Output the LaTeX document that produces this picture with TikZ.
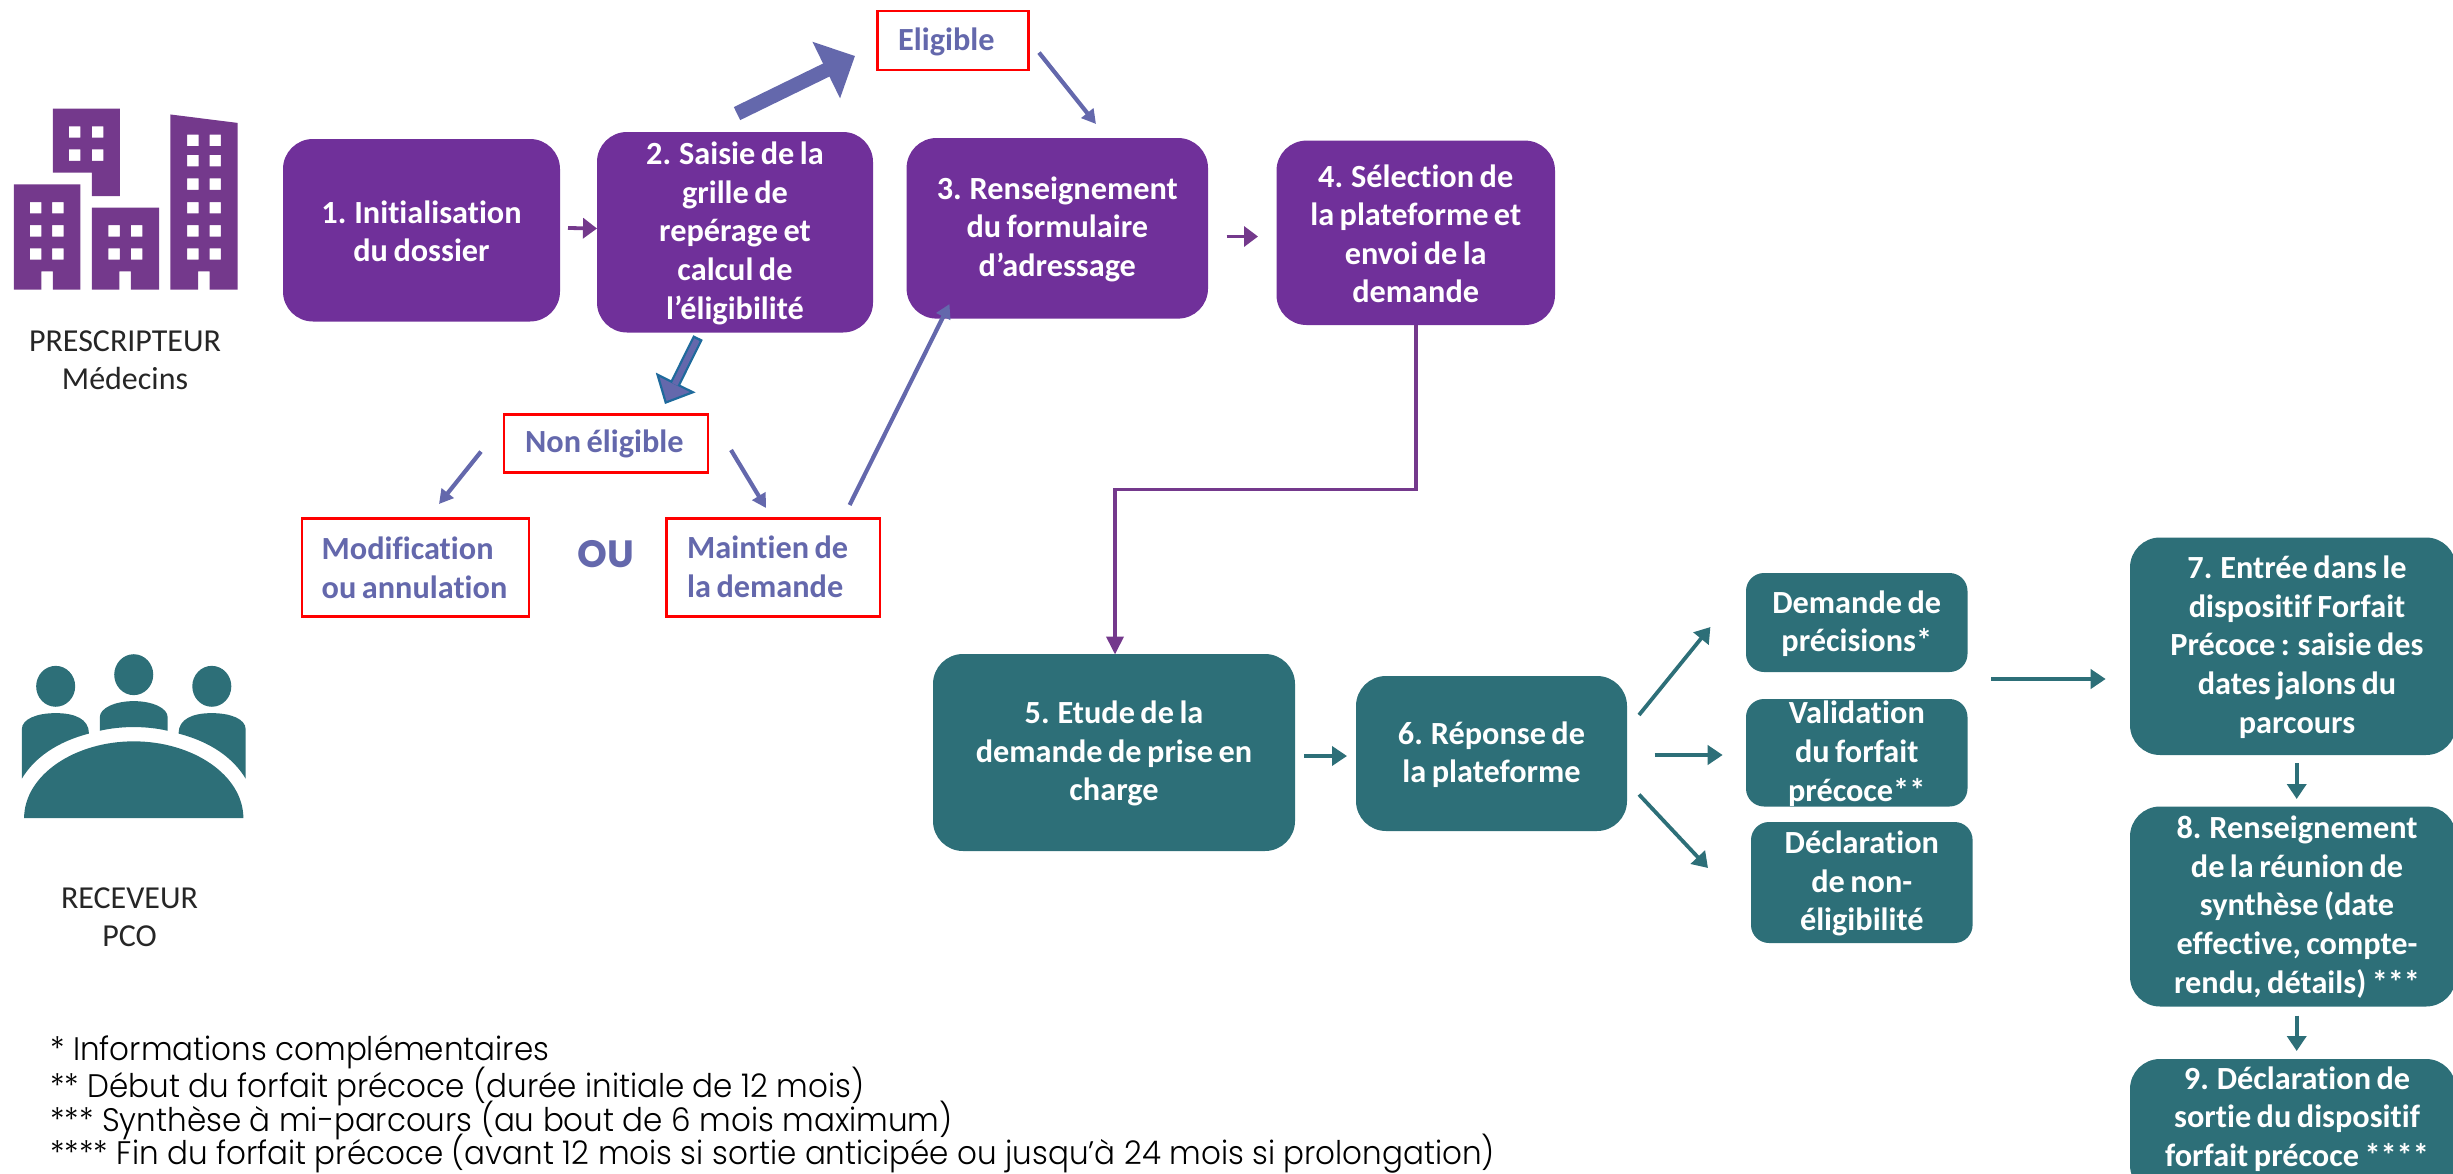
\documentclass[tikz,border=0pt]{standalone}
\usepackage{fontspec}
\usetikzlibrary{arrows.meta}
\setmainfont[Ligatures=NoCommon,WordSpace=0.75]{Carlito}
\newfontfamily\gothic[FakeStretch=0.95]{Poppins Light}
\newfontfamily\gothicb{Poppins}
\definecolor{pur}{HTML}{70309A}
\definecolor{purl}{HTML}{74398C}
\definecolor{teal2}{HTML}{2D6F78}
\definecolor{slate}{HTML}{6468AC}
\definecolor{slateb}{HTML}{1F6A9C}
\tikzset{
  box/.style={draw=none,inner sep=0pt,rounded corners=#1},
  pbox/.style={box=30pt,fill=pur},
  tbox/.style={box=30pt,fill=teal2},
  sbox/.style={box=18pt,fill=teal2},
  rbox/.style={draw=red,line width=2.6pt,inner sep=0pt},
  wtxt/.style={text=white,font=\fontsize{32.3}{38.6}\selectfont\bfseries,align=center,inner sep=0pt,yshift=-1pt},
  stxt/.style={text=slate,font=\fontsize{32.3}{38.6}\selectfont\bfseries,align=left,inner sep=0pt,yshift=-1pt},
  ktxt/.style={text=black!85,font=\fontsize{32}{38.5}\selectfont,align=center,inner sep=0pt},
  ftxt/.style={text=black,font=\gothic\fontsize{32.6}{34.5}\selectfont,anchor=west,inner sep=0pt},
  thin/.style={draw=slate,line width=4.2pt,-{Triangle[length=14pt,width=15pt]}},
  parr/.style={draw=purl,line width=3.8pt,-{Triangle[length=14pt,width=20pt]}},
  tarr/.style={draw=teal2,line width=3.8pt,-{Triangle[length=15pt,width=19pt]}},
}
\newcommand{\BX}[6]{% name x1 y1 x2 y2 style
  \pgfmathsetmacro{\cxx}{(#2+#4)/2}\pgfmathsetmacro{\cyy}{(#3+#5)/2}
  \pgfmathsetmacro{\www}{#4-#2}\pgfmathsetmacro{\hhh}{#5-#3}
  \node[#6,minimum width=\www pt,minimum height=\hhh pt] (#1) at (\cxx,\cyy) {};}
\begin{document}
\begin{tikzpicture}[x=1pt,y=-1pt]
\useasboundingbox (0,0) rectangle (2453,1173);
\clip (0,0) rectangle (2453,1173);
% buildings
\begin{scope}[x=0.574pt,y=-0.4209pt,fill=purl]
\fill[even odd rule] (92,258)--(209,258)--(209,466)--(160,466)--(160,410)--(92,410)--cycle
  (120,300) rectangle (140,327) (160,300) rectangle (180,327)
  (120,355) rectangle (140,382) (160,355) rectangle (180,382);
\fill[even odd rule] (24,438)--(140,438)--(140,688)--(92,688)--(92,645)--(72,645)--(72,688)--(24,688)--cycle
  (52,480) rectangle (72,507) (91,480) rectangle (111,507)
  (52,535) rectangle (72,562) (91,535) rectangle (111,562)
  (52,590) rectangle (72,617) (91,590) rectangle (111,617);
\fill[even odd rule] (160,493)--(277,493)--(277,688)--(228,688)--(228,645)--(208,645)--(208,688)--(160,688)--cycle
  (189,535) rectangle (209,562) (228,535) rectangle (248,562)
  (189,590) rectangle (209,617) (228,590) rectangle (248,617);
\fill[even odd rule] (297,272)--(414,292)--(414,688)--(365,688)--(365,645)--(345,645)--(345,688)--(297,688)--cycle
  (326,320) rectangle (346,347) (365,320) rectangle (385,347)
  (326,368) rectangle (346,395) (365,368) rectangle (385,395)
  (326,424) rectangle (346,451) (365,424) rectangle (385,451)
  (326,480) rectangle (346,507) (365,480) rectangle (385,507)
  (326,535) rectangle (346,562) (365,535) rectangle (385,562)
  (326,590) rectangle (346,617) (365,590) rectangle (385,617);
\end{scope}
% people
\begin{scope}[shift={(0,620)},x=0.574pt,y=-0.3527pt,fill=teal2]
\fill (97,188) ellipse[x radius=34,y radius=58];
\fill (233,155) ellipse[x radius=34,y radius=58];
\fill (369,188) ellipse[x radius=34,y radius=58];
\fill (38,450)--(38,310) .. controls (38,280) and (65,264) .. (97,264) .. controls (130,264) and (155,280) .. (155,322) .. controls (100,345) and (60,390) .. (38,450)--cycle;
\fill (428,450)--(428,310) .. controls (428,280) and (401,264) .. (369,264) .. controls (336,264) and (311,280) .. (311,322) .. controls (366,345) and (406,390) .. (428,450)--cycle;
\fill (174,314)--(174,275) .. controls (174,250) and (200,230) .. (233,230) .. controls (266,230) and (292,250) .. (292,275)--(292,314) .. controls (255,300) and (211,300) .. (174,314)--cycle;
\fill (42,562) .. controls (42,440) and (130,344) .. (233,344) .. controls (336,344) and (424,440) .. (424,562)--cycle;
\end{scope}
% side labels
\node[ktxt] (presc) at (125,360) {PRESCRIPTEUR\\Médecins};
\node[ktxt] (recv) at (129.5,917) {RECEVEUR\\PCO};
% purple boxes
\BX{b1}{283}{139}{560}{321.5}{pbox}
\BX{b2}{597}{132}{873}{332.5}{pbox}
\BX{b3}{906.6}{138}{1208}{318.6}{pbox}
\BX{b4}{1276.5}{140.6}{1555}{325}{pbox}
\node[wtxt] (t1) at (b1) {1. Initialisation\\du dossier};
\node[wtxt] (t2) at (b2) {2. Saisie de la\\grille de\\repérage et\\calcul de\\l’éligibilité};
\node[wtxt] (t3) at (b3) {3. Renseignement\\du formulaire\\d’adressage};
\node[wtxt] (t4) at (b4) {4. Sélection de\\la plateforme et\\envoi de la\\demande};
% red boxes
\BX{el}{877.5}{11}{1028.6}{70}{rbox}
\BX{ne}{504}{414.6}{708}{472.6}{rbox}
\BX{mo}{302}{518.5}{529}{616.6}{rbox}
\BX{ma}{666.5}{518.5}{880}{616.6}{rbox}
\node[stxt,anchor=west] (tel) at (898,41) {Eligible};
\node[stxt,anchor=west] (tne) at (525,443) {Non éligible};
\node[stxt,anchor=west] (tmo) at (321.5,567) {Modification\\ou annulation};
\node[stxt,anchor=west] (tma) at (687,566) {Maintien de\\la demande};
\node[text=slate,inner sep=0pt,font=\gothicb\bfseries\fontsize{38}{38}\selectfont] (ou) at (605.6,554) {OU};
% teal boxes
\BX{b5}{933}{654}{1295}{851}{tbox}
\BX{b6}{1356}{676}{1627}{831}{tbox}
\BX{d1}{1746}{573}{1967.5}{672}{sbox}
\BX{d2}{1746}{699}{1967.5}{806.5}{sbox}
\BX{d3}{1751}{822}{1972.6}{943}{sbox}
\BX{b7}{2130}{537.5}{2456}{755}{tbox}
\BX{b8}{2130}{806.5}{2456}{1006.5}{tbox}
\BX{b9}{2130}{1059}{2456}{1195}{tbox}
\node[wtxt] (t5) at (b5) {5. Etude de la\\demande de prise en\\charge};
\node[wtxt] (t6) at (b6) {6. Réponse de\\la plateforme};
\node[wtxt] (td1) at (d1) {Demande de\\précisions*};
\node[wtxt] (td2) at (d2) {Validation\\du forfait\\précoce**};
\node[wtxt] (td3) at (d3) {Déclaration\\de non-\\éligibilité};
\node[wtxt] (t7) at (2297,646) {7. Entrée dans le\\dispositif Forfait\\Précoce : saisie des\\dates jalons du\\parcours};
\node[wtxt] (t8) at (2297,906) {8. Renseignement\\de la réunion de\\synthèse (date\\effective, compte-\\rendu, détails) ***};
\node[wtxt] (t9) at (2297,1118) {9. Déclaration de\\sortie du dispositif\\forfait précoce ****};
% free connector ends
\coordinate (a1) at (737,113.6);  \coordinate (a2) at (855,56);
\coordinate (a3) at (698,337.5);  \coordinate (a4) at (665,404);
\coordinate (a5) at (481,451.6);  \coordinate (a6) at (439,504);
\coordinate (a7) at (731,450);    \coordinate (a8) at (766,508);
\coordinate (a9) at (849.6,505);  \coordinate (a10) at (949.5,304);
\coordinate (a11) at (1039,52.6); \coordinate (a12) at (1096,124);
\coordinate (a13) at (568,228);   \coordinate (a14) at (597,228.5);
\coordinate (a15) at (1226.5,236.5); \coordinate (a16) at (1258,236.5);
\coordinate (a17) at (1304,756);  \coordinate (a18) at (1347,756);
\coordinate (a19) at (1639,715);  \coordinate (a20) at (1710.4,627);
\coordinate (a21) at (1654.6,755);\coordinate (a22) at (1722.7,755);
\coordinate (a23) at (1639,794.5);\coordinate (a24) at (1708,868);
\coordinate (a25) at (1991,679);  \coordinate (a26) at (2105.7,679);
\coordinate (a27) at (2296.7,763);\coordinate (a28) at (2296.7,799);
\coordinate (a29) at (2296.7,1015.6);\coordinate (a30) at (2296.7,1051);
\coordinate (e1) at (1115,489.5); \coordinate (e2) at (1115,654.5);
% connectors
\draw[draw=slate,line width=14.5pt,-{Triangle[length=32pt,width=61pt]}] (a1)--(a2);
\draw[draw=slateb,line width=10.5pt,-{Triangle[length=24pt,width=44pt,fill=slate,line width=2.2pt]}] (a3)--(a4);
\draw[draw=slate,line width=6pt,shorten <=2.5pt,shorten >=22pt] (a3)--(a4);
\draw[thin] (a5)--(a6);
\draw[thin] (a7)--(a8);
\draw[thin] (a9)--(a10);
\draw[thin] (a11)--(a12);
\draw[parr] (a13)--(a14);
\draw[parr] (a15)--(a16);
\draw[draw=purl,line width=3.8pt,-{Triangle[length=18pt,width=17pt]}] (b4.south) |- (e1) -- (e2);
\draw[tarr] (a17)--(a18);
\draw[tarr] (a19)--(a20);
\draw[tarr] (a21)--(a22);
\draw[tarr] (a23)--(a24);
\draw[tarr] (a25)--(a26);
\draw[tarr] (a27)--(a28);
\draw[tarr] (a29)--(a30);
% footnotes
\node[ftxt] (f1) at (50,1052) {* Informations complémentaires};
\node[ftxt] (f2) at (50,1086) {** Début du forfait précoce (durée initiale de 12 mois)};
\node[ftxt] (f3) at (50,1120) {*** Synthèse à mi-parcours (au bout de 6 mois maximum)};
\node[ftxt] (f4) at (50,1154) {**** Fin du forfait précoce (avant 12 mois si sortie anticipée ou jusqu’à 24 mois si prolongation)};
\end{tikzpicture}
\end{document}
